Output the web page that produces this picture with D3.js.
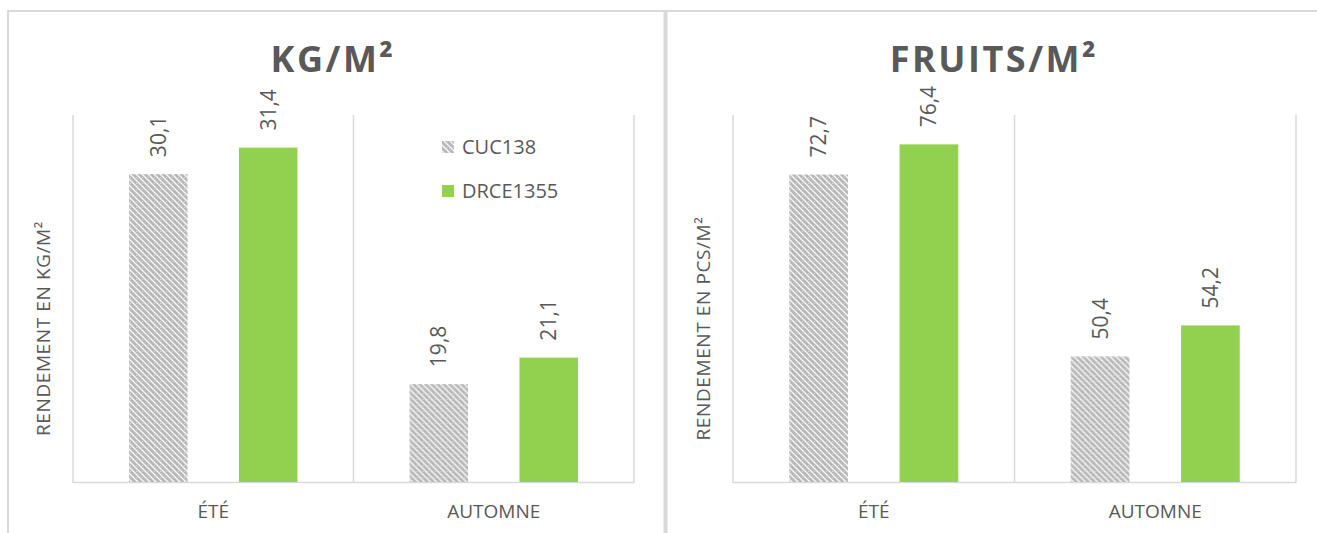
<!DOCTYPE html>
<html>
<head>
<meta charset="utf-8">
<script src="https://cdn.jsdelivr.net/npm/d3@7"></script>
<style>
  body { margin: 0; background: #fff; }
  svg { display: block; font-family: "Open Sans", Lato, sans-serif; }
</style>
</head>
<body>
<svg id="chart" width="1317" height="533"></svg>
<script>
const seasons = ['ÉTÉ', 'AUTOMNE'];
const series = ['CUC138', 'DRCE1355'];
const kgValues = [[30.1, 31.4], [19.8, 21.1]];
const fruitValues = [[72.7, 76.4], [50.4, 54.2]];
const kgDomain = [15, 33];
const fruitDomain = [35, 80];

const grey = '#595959';
const green = '#92d050';
const svg = d3.select('#chart');

// hatch pattern for CUC138
const defs = svg.append('defs');
const pat = defs.append('pattern')
  .attr('id', 'checker')
  .attr('width', 6).attr('height', 6)
  .attr('patternUnits', 'userSpaceOnUse');
pat.append('rect').attr('width', 6).attr('height', 6).attr('fill', '#f4f4f4');
pat.append('path')
  .attr('d', 'M0,0 L2,0 L6,4 L6,6 L4,6 L0,2 Z M4,0 L6,0 L6,2 Z M0,4 L2,6 L0,6 Z')
  .attr('fill', '#b8b8b8');
pat.append('rect').attr('x', 0).attr('y', 3).attr('width', 1).attr('height', 1).attr('fill', '#fff');
pat.append('rect').attr('x', 3).attr('y', 0).attr('width', 1).attr('height', 1).attr('fill', '#fff');
pat.append('rect').attr('x', 3).attr('y', 3).attr('width', 1).attr('height', 1).attr('fill', '#d8d8d8');

const fill = i => i === 0 ? 'url(#checker)' : green;

// chart frames
svg.append('path')
  .attr('d', 'M8,533 L8,11 L1317,11')
  .attr('fill', 'none').attr('stroke', '#d9d9d9').attr('stroke-width', 2);
svg.append('line')
  .attr('x1', 665.5).attr('x2', 665.5).attr('y1', 11).attr('y2', 533)
  .attr('stroke', '#d9d9d9').attr('stroke-width', 4);

function drawChart(opts) {
  const { left, right, title, titleX, yTitle, yTitleX, values, domain, legend } = opts;
  const top = 115, bottom = 482;
  const g = svg.append('g');

  const x0 = d3.scaleBand().domain(seasons).range([left, right]);
  const x1 = d3.scaleBand().domain(series).range([0, x0.bandwidth()])
    .paddingInner(0.468).paddingOuter(0.51);
  const y = d3.scaleLinear().domain(domain).range([bottom, top]);

  // plot frame: axis line and category separators
  g.append('line')
    .attr('x1', left).attr('x2', right).attr('y1', bottom + 0.5).attr('y2', bottom + 0.5)
    .attr('stroke', '#d9d9d9').attr('stroke-width', 1.5);
  [left, ...seasons.map(s => x0(s) + x0.bandwidth())].forEach(xv => {
    g.append('line')
      .attr('x1', xv).attr('x2', xv).attr('y1', top).attr('y2', bottom + 1)
      .attr('stroke', '#d9d9d9').attr('stroke-width', 1.5);
  });

  seasons.forEach((s, si) => {
    const grp = g.append('g').attr('transform', `translate(${x0(s)},0)`);
    grp.selectAll('rect')
      .data(values[si])
      .join('rect')
      .attr('x', (d, i) => x1(series[i]))
      .attr('y', d => y(d))
      .attr('width', x1.bandwidth())
      .attr('height', d => bottom - y(d))
      .attr('fill', (d, i) => fill(i));
    grp.selectAll('text')
      .data(values[si])
      .join('text')
      .attr('transform', (d, i) =>
        `translate(${x1(series[i]) + x1.bandwidth() / 2 + 7.5},${y(d) - 17}) rotate(-90)`)
      .attr('font-size', 21)
      .attr('fill', grey)
      .text(d => d3.format('.1f')(d).replace('.', ','));

    g.append('text')
      .attr('x', x0(s) + x0.bandwidth() / 2)
      .attr('y', 518)
      .attr('text-anchor', 'middle')
      .attr('font-size', 19)
      .attr('fill', grey)
      .text(s);
  });

  g.append('text')
    .attr('x', titleX).attr('y', 72)
    .attr('text-anchor', 'middle')
    .attr('font-size', 36)
    .attr('font-weight', 'bold')
    .attr('letter-spacing', 2.5)
    .attr('fill', grey)
    .text(title);

  g.append('text')
    .attr('transform', `translate(${yTitleX},${(top + bottom) / 2 + 30}) rotate(-90)`)
    .attr('text-anchor', 'middle')
    .attr('font-size', 19)
    .attr('letter-spacing', 0.6)
    .attr('fill', grey)
    .text(yTitle);

  if (legend) {
    series.forEach((s, i) => {
      const ly = 147 + i * 44;
      g.append('rect')
        .attr('x', 442).attr('y', ly - 6).attr('width', 12).attr('height', 12)
        .attr('fill', fill(i));
      g.append('text')
        .attr('x', 462).attr('y', ly + 7)
        .attr('font-size', 20)
        .attr('fill', grey)
        .text(s);
    });
  }
}

drawChart({
  left: 73, right: 634, title: 'KG/M²', titleX: 333,
  yTitle: 'RENDEMENT EN KG/M²', yTitleX: 50,
  values: kgValues, domain: kgDomain, legend: true
});
drawChart({
  left: 733, right: 1296, title: 'FRUITS/M²', titleX: 994,
  yTitle: 'RENDEMENT EN PCS/M²', yTitleX: 710,
  values: fruitValues, domain: fruitDomain, legend: false
});
</script>
</body>
</html>
